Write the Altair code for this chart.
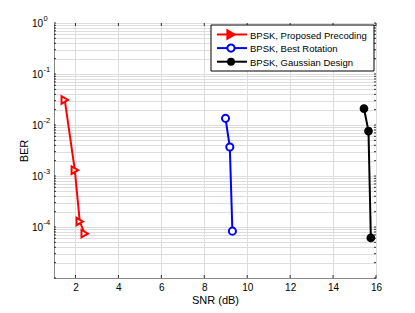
import altair as alt
import pandas as pd

series_names = ["BPSK, Proposed Precoding", "BPSK, Best Rotation", "BPSK, Gaussian Design"]
colors = ["#ff0000", "#0000ff", "#000000"]

snr_proposed = [1.5, 1.97, 2.2, 2.43]
ber_proposed = [0.031, 1.3e-3, 1.28e-4, 7.4e-5]

snr_best = [8.99, 9.19, 9.31]
ber_best = [0.0135, 3.7e-3, 8.3e-5]

snr_gauss = [15.44, 15.65, 15.76]
ber_gauss = [0.021, 7.6e-3, 6.1e-5]

x_ticks = [2, 4, 6, 8, 10, 12, 14, 16]
label_exponents = [0, -1, -2, -3, -4]
decades = [-5, -4, -3, -2, -1]
y_grid = [m * 10 ** e for e in decades for m in range(1, 10)] + [1]

W, H = 322, 255
FONT = "Liberation Sans"

rows = []
for name, xs, ys in [(series_names[0], snr_proposed, ber_proposed),
                     (series_names[1], snr_best, ber_best),
                     (series_names[2], snr_gauss, ber_gauss)]:
    for i, (x, y) in enumerate(zip(xs, ys)):
        rows.append({"series": name, "snr": x, "ber": y, "order": i})
df = pd.DataFrame(rows)

xscale = alt.Scale(domain=[1, 16], nice=False, zero=False)
yscale = alt.Scale(type="log", domain=[1e-5, 1], nice=False)

x_enc = alt.X("snr:Q", scale=xscale,
              axis=alt.Axis(values=x_ticks, title="SNR (dB)", grid=True, ticks=False,
                            labelPadding=4, titlePadding=2, labelFlush=False,
                            titleFontWeight="normal"))
y_enc = alt.Y("ber:Q", scale=yscale,
              axis=alt.Axis(values=y_grid, labels=False, title="BER", grid=True,
                            ticks=False, titlePadding=25, titleFontWeight="normal"))

col = alt.Scale(domain=series_names, range=colors)

lines = alt.Chart(df).mark_line(strokeWidth=2).encode(
    x=x_enc, y=y_enc, order="order:Q",
    color=alt.Color("series:N", scale=col, legend=None),
)

points = alt.Chart(df).mark_point(strokeWidth=2, opacity=1).encode(
    x=alt.X("snr:Q"), y=alt.Y("ber:Q"),
    color=alt.Color("series:N", scale=col, legend=None),
    fill=alt.Fill("series:N", scale=alt.Scale(domain=series_names, range=["white", "white", "black"]), legend=None),
    shape=alt.Shape("series:N", scale=alt.Scale(domain=series_names, range=["triangle-right", "circle", "circle"]), legend=None),
    size=alt.Size("series:N", scale=alt.Scale(domain=series_names, range=[55, 45, 14]), legend=None),
)

# y tick labels: 10 with raised exponent
lab_df = pd.DataFrame({"ber": [10.0 ** e for e in label_exponents],
                       "exp": [str(e) for e in label_exponents]})
lab_base = alt.Chart(lab_df).mark_text(align="right", baseline="middle", fontSize=10,
                                       font=FONT, color="black", dy=1).encode(
    x=alt.value(-11), y=alt.Y("ber:Q"), text=alt.value("10"))
lab_exp = alt.Chart(lab_df).mark_text(align="left", baseline="middle", fontSize=7.5,
                                      font=FONT, color="black", dy=-4).encode(
    x=alt.value(-10.5), y=alt.Y("ber:Q"), text="exp:N")

# inward ticks (MATLAB style)
xt_df = pd.DataFrame({"snr": x_ticks})
xt_bottom = alt.Chart(xt_df).mark_rule(color="black", strokeWidth=0.8).encode(
    x="snr:Q", y=alt.value(H), y2=alt.value(H - 3))
xt_top = alt.Chart(xt_df).mark_rule(color="black", strokeWidth=0.8).encode(
    x="snr:Q", y=alt.value(0), y2=alt.value(3))
yt_df = pd.DataFrame({"ber": y_grid})
yt_left = alt.Chart(yt_df).mark_rule(color="black", strokeWidth=0.8).encode(
    y="ber:Q", x=alt.value(0), x2=alt.value(2))
yt_right = alt.Chart(yt_df).mark_rule(color="black", strokeWidth=0.8).encode(
    y="ber:Q", x=alt.value(W), x2=alt.value(W - 2))

# legend box
leg_df = pd.DataFrame({"series": series_names, "idx": [0, 1, 2]})
LX0, LX1, LY0, LY1 = 157, 320, 2, 48
box = alt.Chart(pd.DataFrame({"a": [0]})).mark_rect(fill="white", stroke="black", strokeWidth=1).encode(
    x=alt.value(LX0), x2=alt.value(LX1), y=alt.value(LY0), y2=alt.value(LY1))
leg_base = alt.Chart(leg_df).transform_calculate(ly="11.5 + 13.6 * datum.idx")
leg_line = leg_base.mark_rule(strokeWidth=2).encode(
    x=alt.value(163), x2=alt.value(193), y=alt.Y("ly:Q", scale=None),
    color=alt.Color("series:N", scale=col, legend=None))
leg_pt = leg_base.mark_point(strokeWidth=2, opacity=1).encode(
    x=alt.value(177), y=alt.Y("ly:Q", scale=None),
    color=alt.Color("series:N", scale=col, legend=None),
    fill=alt.Fill("series:N", scale=alt.Scale(domain=series_names, range=["#ff0000", "white", "black"]), legend=None),
    shape=alt.Shape("series:N", scale=alt.Scale(domain=series_names, range=["triangle-right", "circle", "circle"]), legend=None),
    size=alt.Size("series:N", scale=alt.Scale(domain=series_names, range=[70, 35, 14]), legend=None),
)
leg_txt = leg_base.mark_text(align="left", baseline="middle", fontSize=9.5, font=FONT, color="black", dy=1).encode(
    x=alt.value(196), y=alt.Y("ly:Q", scale=None), text="series:N")

chart = alt.layer(lines, points, xt_bottom, xt_top, yt_left, yt_right,
                  lab_base, lab_exp, box, leg_line, leg_pt, leg_txt).resolve_scale(
    fill="independent", size="independent"
).properties(
    width=W, height=H,
    autosize=alt.AutoSizeParams(type="none"),
    padding={"left": 46, "top": 15, "right": 30, "bottom": 35},
).configure_view(
    stroke="black", strokeWidth=1
).configure_axis(
    labelFont=FONT, titleFont=FONT, labelFontSize=10, titleFontSize=10,
    labelColor="black", titleColor="black", titleFontWeight="normal",
    domainColor="black", domainWidth=1,
    gridColor="#aaaaaa", gridDash=[1, 2.5], gridWidth=0.8, gridOpacity=1,
).configure(background="white")

chart.save("out.html", embed_options={"renderer": "svg", "actions": False})
